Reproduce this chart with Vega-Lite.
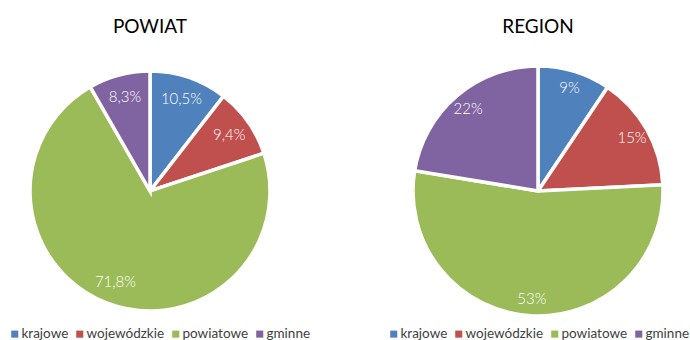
{
  "$schema": "https://vega.github.io/schema/vega-lite/v6.json",
  "padding": {"left": 0, "top": 17, "right": 0, "bottom": 2},
  "background": "white",
  "bounds": "flush",
  "spacing": 88,
  "config": {"view": {"stroke": null}, "font": "Lato"},
  "resolve": {"scale": {"color": "independent", "theta": "independent"}, "legend": {"color": "independent"}},
  "hconcat": [
    {
      "width": 300,
      "height": 250,
      "title": {"text": "POWIAT", "fontSize": 19, "fontWeight": "normal", "color": "#000000", "offset": 27.25, "font": "Lato"},
      "data": {"values": [
        {"kat": "krajowe", "ord": 1, "value": 10.5, "label": "10,5%"},
        {"kat": "wojewódzkie", "ord": 2, "value": 9.4, "label": "9,4%"},
        {"kat": "powiatowe", "ord": 3, "value": 71.8, "label": "71,8%"},
        {"kat": "gminne", "ord": 4, "value": 8.3, "label": "8,3%"}
      ]},
      "encoding": {
        "theta": {"field": "value", "type": "quantitative", "stack": true},
        "order": {"field": "ord", "type": "quantitative"}
      },
      "layer": [
        {
          "mark": {"type": "arc", "outerRadius": 120, "stroke": "white", "strokeWidth": 3.5},
          "encoding": {
            "color": {
              "field": "kat", "type": "nominal",
              "scale": {"domain": ["krajowe", "wojewódzkie", "powiatowe", "gminne"], "range": ["#4F81BD", "#C0504D", "#9BBB59", "#8064A2"]},
              "legend": {"orient": "none", "legendX": 8, "legendY": 261, "direction": "horizontal", "title": null, "symbolType": "square", "symbolSize": 50, "symbolStrokeWidth": 0, "labelFontSize": 13.5, "labelColor": "#404040", "columnPadding": 4, "labelOffset": 0, "labelFont": "Lato"}
            }
          }
        },
        {
          "mark": {"type": "text", "radius": 97, "fill": "white", "fontSize": 15, "fontWeight": 300, "font": "Lato"},
          "encoding": {"text": {"field": "label", "type": "nominal"}}
        }
      ]
    },
    {
      "width": 300,
      "height": 250,
      "title": {"text": "REGION", "fontSize": 19, "fontWeight": "normal", "color": "#000000", "offset": 22.25, "font": "Lato"},
      "data": {"values": [
        {"kat": "krajowe", "ord": 1, "value": 9.4, "label": "9%"},
        {"kat": "wojewódzkie", "ord": 2, "value": 14.8, "label": "15%"},
        {"kat": "powiatowe", "ord": 3, "value": 53.4, "label": "53%"},
        {"kat": "gminne", "ord": 4, "value": 22.4, "label": "22%"}
      ]},
      "encoding": {
        "theta": {"field": "value", "type": "quantitative", "stack": true},
        "order": {"field": "ord", "type": "quantitative"}
      },
      "layer": [
        {
          "mark": {"type": "arc", "outerRadius": 125, "stroke": "white", "strokeWidth": 3.5},
          "encoding": {
            "color": {
              "field": "kat", "type": "nominal",
              "scale": {"domain": ["krajowe", "wojewódzkie", "powiatowe", "gminne"], "range": ["#4F81BD", "#C0504D", "#9BBB59", "#8064A2"]},
              "legend": {"orient": "none", "legendX": -1, "legendY": 261, "direction": "horizontal", "title": null, "symbolType": "square", "symbolSize": 50, "symbolStrokeWidth": 0, "labelFontSize": 13.5, "labelColor": "#404040", "columnPadding": 4, "labelOffset": 0, "labelFont": "Lato"}
            }
          }
        },
        {
          "mark": {"type": "text", "radius": 108, "fill": "white", "fontSize": 15, "fontWeight": 300, "font": "Lato"},
          "encoding": {"text": {"field": "label", "type": "nominal"}}
        }
      ]
    }
  ]
}
